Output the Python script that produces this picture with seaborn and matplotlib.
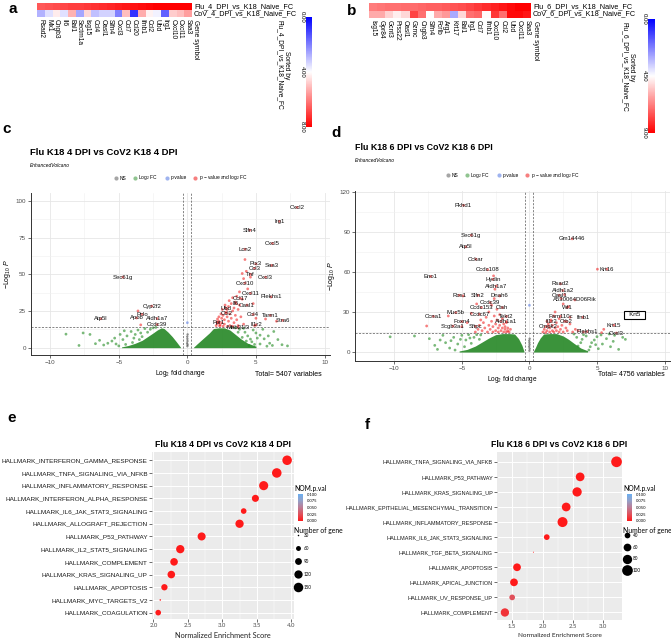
import numpy as np
import pandas as pd
import matplotlib
matplotlib.use('Agg')
import matplotlib.pyplot as plt
import seaborn as sns
from matplotlib.colors import LinearSegmentedColormap, Normalize
from matplotlib.colorbar import ColorbarBase
from matplotlib.lines import Line2D

plt.rcParams['font.family'] = ['Liberation Sans', 'DejaVu Sans']
plt.rcParams['mathtext.fontset'] = 'custom'
plt.rcParams['mathtext.rm'] = 'Liberation Sans'
plt.rcParams['mathtext.it'] = 'Liberation Sans:italic'

# ---------------- data: heatmaps (a, b) ----------------
genes_a = ['Rsad2', 'Mx1', 'Cngb3', 'Il6', 'Bal1', 'Sectm1a', 'Isg15', 'Ccl4', 'Oasl1', 'Slfn4',
           'Cxcl3', 'Ccl7', 'Ccl20', 'Ifnb1', 'Ccl2', 'Ubd', 'Irg1', 'Cxcl10', 'Cxcl11', 'Saa3']
flu_a = [6.6, 6.7, 6.8, 6.9, 7.0, 7.0, 7.1, 7.2, 7.3, 7.4, 7.5, 7.6, 7.7, 7.8, 7.9, 8.0, 8.0, 8.0, 8.0, 8.0]
cov_a = [2.8, 3.5, 4.3, 3.5, 5.2, 2.6, 4.6, 3.0, 3.3, 3.3, 2.0, 5.0, 0.8, 5.3, 4.2, 3.8, 1.5, 4.8, 5.0, 5.5]
rows_a = ['Flu_4_DPI_vs_K18_Naive_FC', 'CoV_4_DPI_vs_K18_Naive_FC']

genes_b = ['Isg15', 'Gpr84', 'Gcnt3', 'Prss22', 'Oasl1', 'Gzmc', 'Cngb3', 'Slfn4', 'Fcrlb', 'Arg1',
           'Krt17', 'Bal1', 'Irg1', 'Ccl7', 'Ifnb1', 'Cxcl10', 'Ccl2', 'Ubd', 'Cxcl11', 'Saa3']
flu_b = [6.8, 6.9, 7.0, 7.0, 7.1, 7.1, 7.2, 7.3, 7.3, 7.4, 7.5, 7.6, 7.8, 8.0, 8.2, 8.4, 8.6, 8.8, 9.0, 9.0]
cov_b = [6.0, 6.0, 5.3, 4.8, 5.2, 7.8, 7.0, 4.5, 6.0, 6.3, 3.0, 5.2, 7.0, 7.2, 4.6, 8.0, 7.0, 8.8, 8.8, 8.6]
rows_b = ['Flu_6_DPI_vs_K18_Naive_FC', 'CoV_6_DPI_vs_K18_Naive_FC']

# ---------------- data: volcano c (log2FC, -log10P) ----------------
c_env_left_x = [-4.8, -4.3, -3.8, -3.3, -2.9, -2.5, -2.2, -1.9, -1.7, -1.4, -1.1, -0.8, -0.5]
c_env_left_y = [0.5, 1.5, 3.0, 5.0, 7.5, 10.0, 12.0, 13.5, 13.0, 10.5, 7.5, 4.0, 0.3]
c_env_right_x = [0.45, 0.7, 1.0, 1.3, 1.6, 1.9, 2.3, 2.7, 3.1, 3.5, 3.9, 4.4, 5.0]
c_env_right_y = [0.3, 2.5, 5.0, 7.5, 10.0, 13.0, 13.5, 13.5, 12.0, 9.0, 6.0, 3.0, 1.0]
c_green = [(-8.85, 9.2), (-7.6, 10), (-7.1, 9), (-6.7, 2.7), (-6.1, 1.8), (-5.5, 4.5), (-4.9, 9),
           (-5.2, 2.5), (-4.7, 5.5), (-4.4, 8), (-4.1, 11), (-3.8, 9), (-3.6, 12), (-3.3, 7.5),
           (-3.1, 13), (-2.9, 10.5), (-2.7, 12.5), (-2.5, 13.5), (-4.0, 3.5), (-5.8, 3),
           (-5.0, 1.2), (-4.5, 2.2), (-3.5, 5.5), (-6.4, 5), (-5.3, 6.5), (-3.9, 6.5),
           (-4.6, 11.5), (-3.4, 10), (-2.3, 13.8), (-7.9, 1.5),
           (4.4, 8), (4.7, 4), (5.0, 10), (5.3, 2.5), (5.6, 6), (6.0, 3), (6.3, 11), (6.9, 2),
           (4.8, 12), (4.2, 10.5), (3.8, 12.5), (5.8, 1), (3.5, 13.5), (5.1, 6.5), (4.5, 1.5),
           (6.6, 5.5), (7.3, 1.2), (3.2, 13.8), (4.0, 7), (5.5, 12.5), (4.6, 5.8), (5.3, 8.5),
           (4.1, 13.2), (4.9, 2.2), (5.9, 8), (6.2, 1.5), (3.7, 10.5), (4.3, 4.5)]
c_red = [(2.1, 15), (2.2, 16.5), (2.3, 18), (2.35, 14.8), (2.4, 15.5), (2.5, 17), (2.5, 20),
         (2.6, 22), (2.6, 14.5), (2.7, 16), (2.7, 19), (2.8, 24), (2.9, 21), (2.9, 26), (3.0, 18),
         (3.0, 28), (3.1, 23), (3.1, 15), (3.2, 30), (3.2, 20), (3.3, 25), (3.3, 34), (3.4, 17),
         (3.4, 27), (3.5, 22), (3.5, 31), (3.6, 35), (3.6, 19), (3.7, 26), (3.8, 29), (3.8, 38),
         (3.9, 21), (4.0, 33), (4.0, 50.5), (4.1, 16), (4.1, 47), (4.2, 60), (4.3, 52), (4.4, 40),
         (4.6, 48), (4.8, 30), (5.0, 20), (5.7, 19.5), (6.5, 18), (2.9, 14.3), (3.3, 14.6),
         (3.7, 15), (-3.4, 15.5), (-3.6, 25), (4.9, 15), (2.2, 19.5), (2.45, 23), (2.75, 29),
         (3.05, 32), (2.3, 21), (2.55, 26), (2.15, 17.5)]
c_blue = [(0.0, 17)]
c_ns = [(0.0, 1), (0.02, 2), (-0.02, 3), (0.01, 4.5), (0.0, 6), (-0.01, 7.5), (0.02, 9)]
c_labels = ['Cxcl2', 'Irg1', 'Slfn4', 'Cxcl5', 'Lcn2', 'Ptx3', 'Saa3', 'Ccl3', 'Tnf', 'Cxcl3',
            'Cxcl10', 'Sec61g', 'Cxcl11', 'Plekhs1', 'Ccl17', 'Il6', 'Oasl1', 'Ubd', 'Ccl2',
            'Ccl4', 'Tarm1', 'Stra6', 'Il1r2', 'Mab21l3', 'Fpr1', 'Cyp2f2', 'Pclo', 'Apob',
            'Aldh1a7', 'Atp5l', 'Ccdc39']
c_lab_x = [8.0, 6.7, 4.55, 6.2, 4.2, 5.0, 6.15, 4.9, 4.6, 5.7, 4.2, -4.7, 4.6, 6.1, 3.85, 3.55,
           4.35, 2.8, 2.85, 4.8, 6.05, 6.95, 5.0, 3.7, 2.3, -2.6, -3.3, -3.7, -2.2, -6.3, -2.2]
c_lab_y = [95.5, 86, 80, 71, 67, 57, 56, 54, 50, 48, 44, 48, 37, 34.5, 33.6, 30, 29, 27,
           23.5, 22.6, 22, 18.6, 15.5, 13.7, 17, 28.3, 22.7, 20.2, 19.8, 19.7, 15.7]

# ---------------- data: volcano d ----------------
d_env_left_x = [-5.2, -4.6, -4.0, -3.5, -3.0, -2.5, -2.0, -1.5, -1.1, -0.8, -0.55, -0.4]
d_env_left_y = [0.8, 2.0, 4.5, 7.5, 10.5, 13.0, 13.8, 13.8, 13.5, 10.0, 5.0, 0.5]
d_env_right_x = [0.3, 0.45, 0.6, 0.8, 1.05, 1.5, 2.0, 2.5, 2.9, 3.3, 3.8, 4.3]
d_env_right_y = [0.5, 3.5, 7.0, 10.5, 13.5, 13.8, 13.8, 12.0, 9.5, 6.5, 3.0, 1.0]
d_green = [(-10.3, 11.4), (-8.5, 12), (-7.0, 5), (-6.6, 9), (-6.2, 7), (-5.9, 3), (-5.6, 11),
           (-5.3, 6), (-5.0, 12.5), (-4.7, 9), (-4.5, 13), (-4.3, 6.5), (-4.1, 11), (-3.9, 13),
           (-5.5, 1.5), (-6.4, 12.5), (-7.4, 10), (-3.7, 9.5), (-4.8, 4), (-5.8, 8.5),
           (-4.4, 10.5), (-6.8, 2), (-5.1, 9.5), (-3.6, 12.8),
           (3.5, 11), (3.8, 7), (4.2, 12), (4.5, 4), (4.8, 9), (5.1, 2.5), (5.4, 6), (5.7, 10),
           (6.0, 4), (6.3, 12.5), (6.9, 11), (7.1, 9.5), (4.0, 13), (5.9, 13.5), (3.3, 13.5),
           (4.4, 1.5), (6.6, 2), (5.0, 11.5), (3.9, 9.5), (4.6, 7), (5.3, 12.8), (3.6, 4.5),
           (4.9, 5.5), (6.2, 8)]
d_red = [(-4.0, 15), (-3.8, 17), (-3.7, 20), (-3.5, 16), (-3.4, 22), (-3.3, 18), (-3.2, 26),
         (-3.1, 15), (-3.0, 20), (-3.0, 30), (-2.9, 17), (-2.8, 23), (-2.8, 35), (-2.7, 15),
         (-2.7, 19), (-2.6, 27), (-2.6, 40), (-2.5, 16), (-2.5, 21), (-2.4, 24), (-2.4, 32),
         (-2.3, 15), (-2.3, 18), (-2.2, 20), (-2.2, 28), (-2.1, 16), (-2.1, 23), (-2.0, 18),
         (-2.0, 25), (-1.9, 15), (-1.9, 21), (-1.8, 17), (-1.8, 19), (-1.7, 15), (-1.7, 22),
         (-1.6, 16), (-1.6, 18), (-1.5, 15), (-1.4, 17), (-3.6, 24), (-4.3, 29), (-4.6, 22),
         (-5.0, 19), (-3.9, 36), (-2.65, 57), (-2.55, 47), (-4.9, 42), (-7.6, 19.5), (-6.0, 27),
         (1.0, 15), (1.1, 17), (1.2, 14.5), (1.2, 19), (1.3, 16), (1.4, 21), (1.5, 15), (1.5, 18),
         (1.6, 24), (1.7, 16), (1.7, 20), (1.8, 27), (1.8, 15), (1.9, 18), (1.9, 30), (2.0, 22),
         (2.0, 16), (2.1, 19), (2.2, 25), (2.2, 15), (2.3, 17), (2.4, 20), (2.5, 36), (2.5, 15),
         (2.6, 23), (2.7, 18), (2.8, 16), (3.0, 21), (3.2, 15), (3.4, 17), (3.6, 16), (4.0, 15),
         (2.35, 40), (2.6, 43), (2.9, 34), (5.03, 62), (5.5, 17), (5.34, 14.5), (1.3, 23),
         (3.0, 26)]
d_blue = [(0.0, 35)]
d_ns = [(0.0, 1), (0.02, 2.5), (-0.02, 4), (0.01, 5.5), (0.0, 7), (-0.01, 8.5), (0.02, 10)]
d_labels = ['Pkhd1', 'Sec61g', 'Gm14446', 'Atp5l', 'Cckar', 'Ccdc108', 'Krt16', 'Eno1', 'Hydin',
            'Aldh1a7', 'Rsad2', 'Aldh1a2', 'Oasl1', 'A530064D06Rik', 'Ros1', 'Slfn2', 'Dnah6',
            'Ccdc39', 'Wt1', 'Ccdc153', 'Ctsh', 'Muc5b', 'Ccdc67', 'Fam110c', 'Ifnb1', 'Ccna1',
            'Tekt2', 'Foxn4', 'Aldh1a1', 'Il1r2', 'Crb2', 'Krt15', 'Scgb3a1', 'Sftpc', 'Cmpk2',
            'Plekhs1', 'Cxcl3']
d_lab_x = [-4.87, -4.3, 3.16, -4.7, -3.95, -3.09, 5.73, -7.3, -2.7, -2.45, 2.3, 2.47, 2.2, 3.36,
           -5.2, -3.8, -2.2, -2.9, 2.8, -3.55, -2.0, -5.45, -3.7, 2.3, 3.95, -7.1, -1.7, -5.0,
           -1.7, 1.6, 2.75, 6.25, -5.65, -4.0, 1.4, 4.27, 6.44]
d_lab_y = [109.8, 87.4, 84.7, 78.7, 69.5, 61.6, 62, 56.6, 54.4, 49.4, 51, 46, 42.5, 39, 42.5,
           42.5, 42, 37, 33.3, 33.3, 33.3, 29.5, 28.3, 26.8, 26, 26.7, 26.7, 22.8, 22.8, 22.8,
           22.8, 20.1, 19.4, 19.2, 19.2, 15.3, 14.2]
d_boxed = ('Krt5', 7.78, 27.8)

# ---------------- data: GSEA (e, f) ----------------
e_terms = ['HALLMARK_INTERFERON_GAMMA_RESPONSE', 'HALLMARK_TNFA_SIGNALING_VIA_NFKB',
           'HALLMARK_INFLAMMATORY_RESPONSE', 'HALLMARK_INTERFERON_ALPHA_RESPONSE',
           'HALLMARK_IL6_JAK_STAT3_SIGNALING', 'HALLMARK_ALLOGRAFT_REJECTION', 'HALLMARK_P53_PATHWAY',
           'HALLMARK_IL2_STAT5_SIGNALING', 'HALLMARK_COMPLEMENT', 'HALLMARK_KRAS_SIGNALING_UP',
           'HALLMARK_APOPTOSIS', 'HALLMARK_MYC_TARGETS_V2', 'HALLMARK_COAGULATION']
e_nes = [3.94, 3.79, 3.60, 3.48, 3.31, 3.25, 2.70, 2.39, 2.30, 2.26, 2.16, 2.10, 2.07]
e_pval = [0.0, 0.0, 0.0, 0.0, 0.0, 0.0, 0.0, 0.0, 0.0, 0.0, 0.0, 0.0, 0.0]
e_ngene = [165, 150, 140, 95, 70, 120, 115, 120, 105, 105, 81, 30, 70]
e_legend_n = [30, 60, 90, 120, 150]

f_terms = ['HALLMARK_TNFA_SIGNALING_VIA_NFKB', 'HALLMARK_P53_PATHWAY', 'HALLMARK_KRAS_SIGNALING_UP',
           'HALLMARK_EPITHELIAL_MESENCHYMAL_TRANSITION', 'HALLMARK_INFLAMMATORY_RESPONSE',
           'HALLMARK_IL6_JAK_STAT3_SIGNALING', 'HALLMARK_TGF_BETA_SIGNALING', 'HALLMARK_APOPTOSIS',
           'HALLMARK_APICAL_JUNCTION', 'HALLMARK_UV_RESPONSE_UP', 'HALLMARK_COMPLEMENT']
f_nes = [3.22, 2.62, 2.57, 2.39, 2.33, 2.07, 1.85, 1.58, 1.53, 1.50, 1.38]
f_pval = [0.0, 0.0, 0.0, 0.0, 0.0, 0.0, 0.0, 0.0, 0.0, 0.025, 0.012]
f_ngene = [100, 72, 79, 72, 89, 40, 17, 60, 60, 40, 67]
f_legend_n = [40, 60, 80, 100]

# ---------------- layout helpers ----------------
W, H = 671, 641
fig = plt.figure(figsize=(W / 100, H / 100), dpi=100)


def rect(l, t, r, b):
    return [l / W, 1 - b / H, (r - l) / W, (b - t) / H]


def ftext(x, y, s, **kw):
    fig.text(x / W, 1 - y / H, s, **kw)


# panel letters
for letter, (lx, ly) in {'a': (13, 9), 'b': (352, 11), 'c': (7, 129), 'd': (336, 133),
                         'e': (12, 418), 'f': (367, 425)}.items():
    ftext(lx, ly, letter, fontsize=11, fontweight='bold', ha='center', va='center')

# ---------------- heatmaps ----------------
heat_panels = [
    dict(box=(37, 3, 192, 17), cbox=(306, 17, 312, 127), genes=genes_a, flu=flu_a, cov=cov_a,
         rows=rows_a, vmax=8, ticks=[0, 4, 8], sort_xy=(283, 65)),
    dict(box=(369, 3, 531, 18), cbox=(648, 19, 655, 133), genes=genes_b, flu=flu_b, cov=cov_b,
         rows=rows_b, vmax=9, ticks=[0, 4.5, 9], sort_xy=(628, 67)),
]
for hp in heat_panels:
    ax = fig.add_axes(rect(*hp['box']))
    cax = fig.add_axes(rect(*hp['cbox']))
    df = pd.DataFrame([hp['flu'], hp['cov']], index=hp['rows'], columns=hp['genes'])
    sns.heatmap(df, ax=ax, cmap='bwr', vmin=0, vmax=hp['vmax'], cbar_ax=cax,
                xticklabels=True, yticklabels=True)
    ax.set_xticklabels(hp['genes'], rotation=270, fontsize=4.8, ha='center', va='top')
    ax.yaxis.tick_right()
    ax.set_yticklabels(hp['rows'], rotation=0, fontsize=5.2, va='center')
    ax.tick_params(length=0, pad=1.5)
    ax.set_xlabel('')
    ax.set_ylabel('')
    ax.text(len(hp['genes']) + 0.5, -0.2, 'Gene symbol', transform=ax.get_xaxis_transform(),
            rotation=270, ha='center', va='top', fontsize=4.8)
    cax.invert_yaxis()
    cax.yaxis.set_ticks_position('left')
    cax.set_yticks(hp['ticks'])
    cax.set_yticklabels(['%.2f' % t for t in hp['ticks']], rotation=270, fontsize=4.3,
                        va='center', ha='right')
    cax.tick_params(length=0, pad=1)
    ftext(hp['sort_xy'][0], hp['sort_xy'][1],
          'Sorted by\n' + hp['rows'][0], rotation=270, ha='center', va='center',
          multialignment='center', fontsize=4.8, linespacing=1.1)

# ---------------- volcano plots ----------------
vol_panels = [
    dict(box=(31, 193, 330, 355), xlim=(-11.4, 10.4), ylim=(-5, 105.3),
         yticks=[0, 25, 50, 75, 100], yminor=[12.5, 37.5, 62.5, 87.5],
         envl=(c_env_left_x, c_env_left_y), envr=(c_env_right_x, c_env_right_y),
         green=c_green, red=c_red, blue=c_blue, ns=c_ns,
         labels=(c_labels, c_lab_x, c_lab_y), boxed=None,
         title='Flu K18 4 DPI vs CoV2 K18 4 DPI', title_fs=6.8, title_xy=(30, 152),
         total='Total= 5407 variables', total_xy=(322, 375)),
    dict(box=(355, 191, 670, 361), xlim=(-12.9, 10.4), ylim=(-6.7, 120.5),
         yticks=[0, 30, 60, 90, 120], yminor=[15, 45, 75, 105],
         envl=(d_env_left_x, d_env_left_y), envr=(d_env_right_x, d_env_right_y),
         green=d_green, red=d_red, blue=d_blue, ns=d_ns,
         labels=(d_labels, d_lab_x, d_lab_y), boxed=d_boxed,
         title='Flu K18 6 DPI vs CoV2 K18 6 DPI', title_fs=6.4, title_xy=(355, 148),
         total='Total= 4756 variables', total_xy=(665, 375)),
]
for vp in vol_panels:
    ax = fig.add_axes(rect(*vp['box']))
    ax.set_xlim(*vp['xlim'])
    ax.set_ylim(*vp['ylim'])
    ax.set_xticks([-10, -5, 0, 5, 10])
    ax.set_xticks([-7.5, -2.5, 2.5, 7.5], minor=True)
    ax.set_yticks(vp['yticks'])
    ax.set_yticks(vp['yminor'], minor=True)
    ax.grid(True, which='major', color='#E6E6E6', lw=0.6)
    ax.grid(True, which='minor', color='#F0F0F0', lw=0.4)
    ax.set_axisbelow(True)
    for side in ['top', 'right']:
        ax.spines[side].set_visible(False)
    for side in ['left', 'bottom']:
        ax.spines[side].set_color('#333333')
        ax.spines[side].set_linewidth(0.7)
    ax.tick_params(which='major', labelsize=4.5, labelcolor='#4D4D4D', length=2, width=0.5,
                   color='#333333', pad=1.5)
    ax.tick_params(which='minor', length=0)

    ax.fill_between(vp['envl'][0], 0, vp['envl'][1], color='#2A8A2A', alpha=0.92, lw=0)
    ax.fill_between(vp['envr'][0], 0, vp['envr'][1], color='#2A8A2A', alpha=0.92, lw=0)
    gx, gy = np.array(vp['green']).T
    sns.scatterplot(x=gx, y=gy, color='forestgreen', alpha=0.6, s=4, edgecolor='none', ax=ax)
    nx, ny = np.array(vp['ns']).T
    sns.scatterplot(x=nx, y=ny, color='#4D4D4D', alpha=0.6, s=3, edgecolor='none', ax=ax)
    bx, by = np.array(vp['blue']).T
    sns.scatterplot(x=bx, y=by, color='royalblue', alpha=0.5, s=4, edgecolor='none', ax=ax)
    rx, ry = np.array(vp['red']).T
    sns.scatterplot(x=rx, y=ry, color='#EE0000', alpha=0.5, s=4, edgecolor='none', ax=ax)
    labs, lx, ly = vp['labels']
    sns.scatterplot(x=lx, y=ly, color='#EE0000', alpha=0.5, s=4, edgecolor='none', ax=ax)
    for name, x, y in zip(labs, lx, ly):
        ax.text(x, y, name, fontsize=4.3, ha='center', va='center', color='#111111')
    if vp['boxed'] is not None:
        name, x, y = vp['boxed']
        ax.text(x, y, '  ' + name + '  ', fontsize=4.3, ha='center', va='center',
                bbox=dict(boxstyle='square,pad=0.25', fc='white', ec='black', lw=0.8))

    ax.axhline(14.2, color='#555555', ls=(0, (3, 2)), lw=0.5)
    ax.axvline(-0.3, color='#555555', ls=(0, (3, 2)), lw=0.5)
    ax.axvline(0.3, color='#555555', ls=(0, (3, 2)), lw=0.5)

    ax.set_xlabel(r'Log$_{2}$ fold change', fontsize=4.7, labelpad=2)
    ax.set_ylabel(r'$-$Log$_{10}$ $\mathit{P}$', fontsize=5, labelpad=2)

    handles = [Line2D([], [], marker='o', ls='', color=c, alpha=0.5, markersize=3, mec='none')
               for c in ['#4D4D4D', 'forestgreen', 'royalblue', '#EE0000']]
    names = ['NS', r'Log$_{2}$ FC', 'p-value', r'p $-$ value and log$_{2}$ FC']
    ax.legend(handles, names, loc='center', bbox_to_anchor=(0.5, 1 + 15 / 162), ncol=4,
              frameon=False, fontsize=3.5, handletextpad=0.1, columnspacing=1.2,
              handlelength=1.2)

    ftext(vp['title_xy'][0], vp['title_xy'][1], vp['title'], fontsize=vp['title_fs'],
          fontweight='bold', va='center', ha='left')
    ftext(vp['title_xy'][0], vp['title_xy'][1] + 13, 'EnhancedVolcano', fontsize=3.5,
          style='italic', va='center', ha='left')
    ftext(vp['total_xy'][0], vp['total_xy'][1], vp['total'], fontsize=5, ha='right',
          va='center')

# ---------------- GSEA dot plots ----------------
pv_cmap = LinearSegmentedColormap.from_list(
    'pv', ['#FF1A1A', '#E0505A', '#BC7C95', '#94A0C8', '#6AAEF0'])

gsea_panels = [
    dict(box=(152, 452, 294, 619), terms=e_terms, nes=e_nes, pval=e_pval, n=e_ngene,
         sizes=(1.2, 47), size_norm=(30, 150), xlim=(1.98, 4.04),
         xticks=[2.0, 2.5, 3.0, 3.5, 4.0], xminor=[2.25, 2.75, 3.25, 3.75],
         label_fs=4.55, xlab_fs=5.3, title='Flu K18 4 DPI vs CoV2 K18 4 DPI',
         leg_x=294, leg_n=e_legend_n, leg_space=1.75),
    dict(box=(497, 452, 622, 620), terms=f_terms, nes=f_nes, pval=f_pval, n=f_ngene,
         sizes=(0.5, 59.4), size_norm=(17, 100), xlim=(1.25, 3.31),
         xticks=[1.5, 2.0, 2.5, 3.0], xminor=[1.75, 2.25, 2.75],
         label_fs=4.0, xlab_fs=4.6, title='Flu K18 6 DPI vs CoV2 K18 6 DPI',
         leg_x=623, leg_n=f_legend_n, leg_space=1.45),
]
for gp in gsea_panels:
    ax = fig.add_axes(rect(*gp['box']))
    df = pd.DataFrame({'Term': gp['terms'], 'NES': gp['nes'], 'pval': gp['pval'], 'n': gp['n']})
    sns.scatterplot(data=df, x='NES', y='Term', hue='pval', size='n', palette=pv_cmap,
                    hue_norm=(0, 0.1), sizes=gp['sizes'], size_norm=gp['size_norm'],
                    legend=False, edgecolor='none', ax=ax, zorder=3)
    nterm = len(gp['terms'])
    ax.set_xlim(*gp['xlim'])
    ax.set_ylim(nterm - 1 + 0.5, -0.65)
    ax.set_xticks(gp['xticks'])
    ax.set_xticklabels(['%.1f' % t for t in gp['xticks']])
    ax.set_xticks(gp['xminor'], minor=True)
    ax.set_facecolor('#EBEBEB')
    ax.grid(True, which='major', color='white', lw=0.7)
    ax.grid(True, which='minor', axis='x', color='white', lw=0.35)
    ax.set_axisbelow(True)
    for s in ax.spines.values():
        s.set_visible(False)
    ax.tick_params(axis='y', labelsize=gp['label_fs'], labelcolor='#1A1A1A', length=2,
                   width=0.5, color='#333333', pad=1)
    ax.tick_params(axis='x', labelsize=4.3, labelcolor='#4D4D4D', length=2, width=0.5,
                   color='#333333', pad=1)
    ax.tick_params(which='minor', length=0)
    for t in ax.get_xticklabels():
        t.set_fontfamily('Lato')
    ax.set_ylabel('')
    ax.set_xlabel('Normalized Enrichment Score', fontsize=gp['xlab_fs'], family='Lato',
                  labelpad=3, color='#222222')
    ax.set_title(gp['title'], fontsize=6.3, fontweight='bold', pad=3.5)

    # p-value colour bar
    lx = gp['leg_x']
    ftext(lx, 489, 'NOM.p.val', fontsize=4.9, family='Lato', va='center', ha='left')
    cax = fig.add_axes(rect(lx + 4, 494, lx + 9, 521))
    cb = ColorbarBase(cax, cmap=pv_cmap, norm=Normalize(0, 0.1))
    cb.outline.set_visible(False)
    cb.set_ticks([0, 0.025, 0.05, 0.075, 0.1])
    cb.set_ticklabels(['0.000', '0.025', '0.050', '0.075', '0.100'])
    cax.tick_params(labelsize=3, length=1.5, width=0.4, color='white', pad=1)
    for t in cax.get_yticklabels():
        t.set_fontfamily('Lato')

    # size legend
    smin, smax = gp['sizes']
    nmin, nmax = gp['size_norm']
    hnd = [Line2D([], [], marker='o', ls='', color='black', mec='none',
                  markersize=np.sqrt(smin + (n - nmin) / (nmax - nmin) * (smax - smin)))
           for n in gp['leg_n']]
    ftext(lx, 530, 'Number of gene', fontsize=4.9, family='Lato', va='center', ha='left')
    fig.legend(hnd, [str(n) for n in gp['leg_n']], loc='upper left',
               bbox_to_anchor=(lx / W, 1 - 533 / H), frameon=False,
               prop={'family': 'Lato', 'size': 3.3}, labelspacing=gp['leg_space'],
               handletextpad=0.5, borderaxespad=0, borderpad=0, handlelength=1.6)

fig.savefig('out.png', dpi=100)
